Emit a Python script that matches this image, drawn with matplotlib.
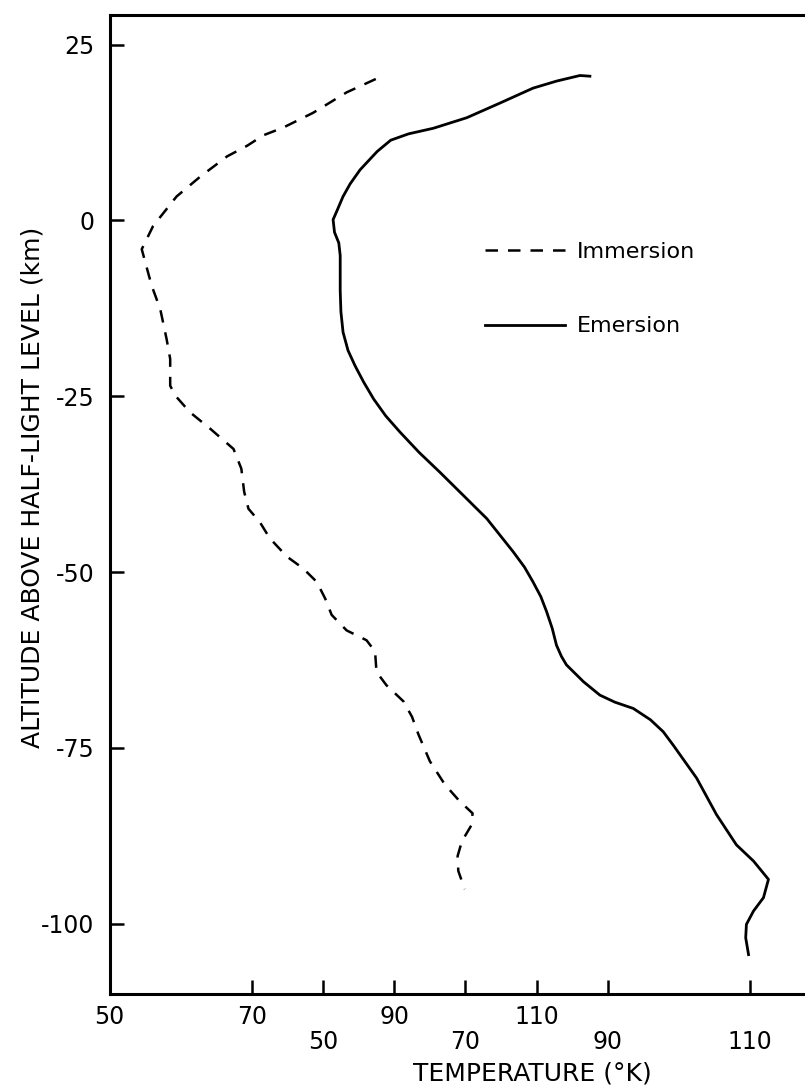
import matplotlib
matplotlib.use("Agg")
from matplotlib import pyplot as plt

plt.rcParams['axes.unicode_minus'] = False

# Immersion profile (temperature K on upper scale, altitude km)
imm_temp = [87.4, 83.3, 78.6, 74.4, 71.6, 69.3, 66.5, 62.7, 59.4, 56.1, 54.5,
            55.9, 57.1, 58.0, 58.5, 58.5, 59.2, 61.3, 64.1, 67.4, 68.5, 68.9,
            69.5, 71.1, 72.5, 74.9, 77.2, 79.1, 80.3, 81.2, 83.3, 86.1, 87.3,
            87.5, 88.9, 91.3, 92.5, 93.4, 95.0, 97.1, 99.2, 101.0, 100.9,
            99.5, 98.9, 99.0, 99.9]
imm_alt = [20.1, 18.2, 15.3, 13.2, 12.1, 10.6, 9.1, 6.2, 3.4, -0.8, -4.1,
           -9.3, -12.6, -16.9, -19.7, -23.5, -24.9, -27.3, -29.6, -32.5, -35.3, -38.6,
           -41.0, -42.9, -45.2, -47.8, -49.5, -51.4, -53.8, -56.1, -58.3, -59.7, -61.3,
           -64.2, -66.1, -68.4, -70.6, -73.1, -76.9, -80.2, -82.6, -84.3, -85.9,
           -88.3, -90.4, -92.5, -95.1]

# Emersion profile (temperature K on lower scale, altitude km)
em_temp = [87.5, 86.1, 82.8, 79.5, 74.9, 70.2, 65.5, 62.0, 59.5, 57.6, 55.2,
           53.8, 52.8, 52.0, 51.4, 51.6, 52.2, 52.4, 52.4, 52.5, 52.8, 53.5,
           54.5, 55.7, 57.1, 58.8, 60.8, 63.5, 66.4, 69.2, 73.0, 76.7, 78.3,
           79.5, 80.6, 81.4, 82.2, 82.8, 83.5, 84.2, 86.6, 88.9, 91.0, 93.6,
           96.0, 97.8, 99.2, 102.5, 105.3, 108.1, 110.5, 112.6, 111.9, 110.5,
           109.5, 109.4, 109.8]
em_alt = [20.5, 20.6, 19.8, 18.8, 16.7, 14.6, 13.1, 12.3, 11.4, 9.8, 7.2,
          5.2, 3.4, 1.5, 0.1, -1.7, -3.2, -5.0, -10.0, -13.0, -15.9, -18.5,
          -20.7, -23.0, -25.4, -27.8, -30.1, -33.0, -35.8, -38.6, -42.4, -47.1, -49.3,
          -51.4, -53.5, -55.6, -58.0, -60.4, -62.0, -63.2, -65.6, -67.5, -68.5, -69.4,
          -71.0, -72.7, -74.6, -79.3, -84.5, -88.8, -91.1, -93.7, -96.3, -98.2,
          -100.1, -102.0, -104.4]

alt_ticks = [25, 0, -25, -50, -75, -100]
top_ticks = [50, 70, 90, 110]
top_minor = [80, 100, 120, 140]
low_ticks = [50, 70, 90, 110]
scale_shift = 30  # lower scale reads 30 K below upper scale

fs = 17
fig = plt.figure(figsize=(8.05, 10.88), dpi=100)
ax = fig.add_axes([0.1363, 0.0864, 0.8837, 0.8998])
ax.set_xlim(50, 150)
ax.set_ylim(-110, 29.2)

ax.plot(imm_temp, imm_alt, color='black', lw=1.8, dashes=(5, 4), label='Immersion')

# second temperature scale for the emersion curve
ax2 = ax.twiny()
ax2.set_xlim(50 - scale_shift, 150 - scale_shift)
ax2.plot(em_temp, em_alt, color='black', lw=2.0, label='Emersion')
ax2.xaxis.set_ticks_position('bottom')
ax2.set_xticks(low_ticks)
ax2.tick_params(axis='x', length=0, pad=26, labelsize=fs)
for s in ax2.spines.values():
    s.set_visible(False)

ax.set_yticks(alt_ticks)
ax.set_xticks(top_ticks)
ax.set_xticks(top_minor, minor=True)
ax.tick_params(axis='both', which='both', direction='in', length=10, width=1.8,
               labelsize=fs)
ax.tick_params(axis='y', pad=11)
ax.tick_params(axis='x', which='both', pad=8)
ax.spines['right'].set_visible(False)
for s in ['left', 'bottom', 'top']:
    ax.spines[s].set_linewidth(2.2)

ax.set_ylabel('ALTITUDE ABOVE HALF-LIGHT LEVEL (km)', fontsize=18)
ax.yaxis.set_label_coords(-0.092, 0.518)
fig.text(532 / 805, 1 - 1073 / 1088, 'TEMPERATURE (°K)', fontsize=18,
         ha='center', va='center')

h1, l1 = ax.get_legend_handles_labels()
h2, l2 = ax2.get_legend_handles_labels()
leg = ax.legend(h1 + h2, l1 + l2, loc='upper left',
                bbox_to_anchor=(485 / 805, 1 - 242 / 1088),
                bbox_transform=fig.transFigure, frameon=False, fontsize=16,
                handlelength=3.6, handletextpad=0.55, labelspacing=2.45,
                borderpad=0, borderaxespad=0)

fig.savefig('out.png', dpi=100)
